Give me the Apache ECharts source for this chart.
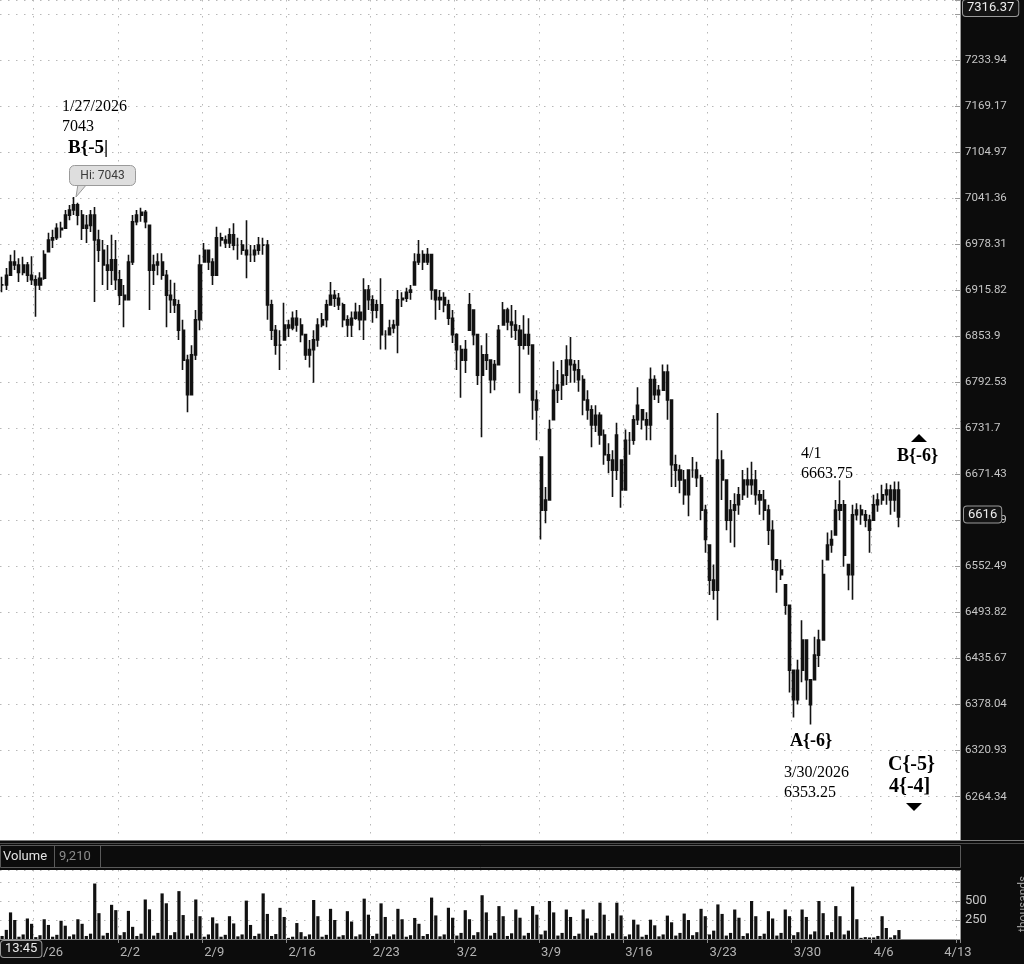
<!DOCTYPE html>
<html>
<head>
<meta charset="utf-8">
<title>ES hourly - wave count</title>
<script src="https://cdn.jsdelivr.net/npm/echarts@6/dist/echarts.min.js"></script>
<style>
  html, body { margin: 0; padding: 0; background: #0c0c0c; }
  #chart { width: 1024px; height: 964px; }
</style>
</head>
<body>
<div id="chart"></div>
<script>
// sessions on the time axis, each split in quarter-session slots
const sessionDays = ['1/22', '1/23', '1/26', '1/27', '1/28', '1/29', '1/30',
  '2/2', '2/3', '2/4', '2/5', '2/6', '2/9', '2/10', '2/11', '2/12', '2/13',
  '2/16', '2/17', '2/18', '2/19', '2/20', '2/23', '2/24', '2/25', '2/26', '2/27',
  '3/2', '3/3', '3/4', '3/5', '3/6', '3/9', '3/10', '3/11', '3/12', '3/13',
  '3/16', '3/17', '3/18', '3/19', '3/20', '3/23', '3/24', '3/25', '3/26', '3/27',
  '3/30', '3/31', '4/1', '4/2', '4/3', '4/6', '4/7', '4/8', '4/9', '4/10', '4/13'];
const sessionSlots = [4, 4, 4, 4, 4, 4, 4,
  4, 4, 4, 4, 4, 4, 4, 4, 4, 4,
  4, 4, 4, 4, 4, 4, 4, 4, 4, 4,
  4, 4, 4, 4, 4, 4, 4, 4, 4, 4,
  4, 4, 4, 4, 4, 4, 4, 4, 4, 4,
  4, 4, 4, 4, 3, 4, 4, 4, 4, 4, 1];
const weekLabels = ['1/26', '2/2', '2/9', '2/16', '2/23', '3/2', '3/9', '3/16', '3/23', '3/30', '4/6', '4/13'];

// right-hand price scale (log spaced), step 972 .. 989
const priceTicks = ['6264.34', '6320.93', '6378.04', '6435.67', '6493.82', '6552.49', '6611.69',
  '6671.43', '6731.7', '6792.53', '6853.9', '6915.82', '6978.31', '7041.36', '7104.97',
  '7169.17', '7233.94', '7299.3'];
const firstTickStep = 972;

// one bar per slot
const highs = [
  6934, 6946, 6964, 6970, 6959, 6961, 6954, 6962, 6936, 6940,
  6970, 6994, 6998, 7007, 7009, 7025, 7032, 7043, 7035, 7025,
  7018, 7025, 7029, 6998, 6984, 6977, 6991, 6984, 6943, 6923,
  6964, 7018, 7025, 7028, 7025, 7004, 6964, 6966, 6966, 6943,
  6930, 6926, 6903, 6876, 6829, 6842, 6889, 6964, 6980, 6970,
  6959, 7002, 6994, 6990, 7000, 7007, 6987, 6984, 7011, 6977,
  6977, 6988, 6987, 6984, 6903, 6869, 6862, 6899, 6876, 6887,
  6889, 6878, 6856, 6849, 6862, 6878, 6885, 6903, 6927, 6916,
  6912, 6899, 6882, 6887, 6899, 6896, 6932, 6923, 6909, 6903,
  6932, 6862, 6876, 6876, 6916, 6913, 6919, 6923, 6966, 6984,
  6970, 6973, 6964, 6916, 6916, 6913, 6903, 6889, 6858, 6842,
  6849, 6912, 6889, 6856, 6842, 6858, 6822, 6822, 6869, 6900,
  6892, 6896, 6889, 6869, 6882, 6878, 6842, 6782, 6694, 6655,
  6743, 6820, 6809, 6822, 6842, 6853, 6822, 6822, 6802, 6782,
  6762, 6762, 6753, 6730, 6712, 6703, 6739, 6690, 6730, 6727,
  6749, 6786, 6756, 6753, 6812, 6802, 6789, 6816, 6816, 6769,
  6697, 6684, 6677, 6677, 6694, 6688, 6671, 6632, 6580, 6555,
  6752, 6703, 6664, 6638, 6647, 6655, 6677, 6680, 6688, 6677,
  6651, 6651, 6632, 6612, 6561, 6561, 6529, 6503, 6421, 6434,
  6484, 6459, 6409, 6463, 6472, 6561, 6596, 6599, 6638, 6663.75,
  6638, 6555, 6632, 6634, 6632, 6625, 6619, 6645, 6647, 6658,
  6660, 6658, 6662, 6662
];
const lows = [
  6913, 6916, 6936, 6943, 6927, 6936, 6927, 6923, 6880, 6916,
  6930, 6968, 6973, 6984, 6987, 7000, 7011, 7018, 7004, 6984,
  6980, 6995, 6900, 6954, 6923, 6916, 6923, 6916, 6896, 6866,
  6903, 6950, 7004, 7009, 7000, 6889, 6923, 6936, 6930, 6866,
  6885, 6885, 6849, 6809, 6753, 6776, 6822, 6862, 6954, 6943,
  6923, 6936, 6975, 6973, 6973, 6970, 6957, 6964, 6932, 6954,
  6954, 6964, 6964, 6876, 6849, 6829, 6809, 6849, 6853, 6862,
  6860, 6846, 6822, 6812, 6792, 6840, 6866, 6866, 6896, 6893,
  6889, 6866, 6853, 6853, 6876, 6862, 6849, 6889, 6872, 6878,
  6836, 6836, 6856, 6858, 6831, 6893, 6900, 6903, 6923, 6950,
  6943, 6950, 6903, 6876, 6889, 6886, 6869, 6845, 6809, 6772,
  6805, 6862, 6842, 6789, 6720, 6809, 6778, 6782, 6816, 6869,
  6862, 6852, 6849, 6778, 6836, 6829, 6743, 6716, 6587, 6608,
  6638, 6743, 6765, 6769, 6789, 6792, 6792, 6780, 6749, 6743,
  6707, 6727, 6710, 6684, 6673, 6642, 6664, 6628, 6651, 6697,
  6710, 6736, 6730, 6716, 6716, 6769, 6765, 6782, 6743, 6655,
  6655, 6647, 6632, 6617, 6667, 6655, 6612, 6570, 6516, 6510,
  6484, 6638, 6599, 6583, 6577, 6619, 6638, 6641, 6645, 6632,
  6619, 6612, 6580, 6548, 6519, 6535, 6491, 6393, 6362, 6378,
  6406, 6384, 6353.25, 6409, 6425, 6459, 6561, 6570, 6593, 6612,
  6552, 6522, 6510, 6612, 6606, 6603, 6570, 6612, 6623, 6632,
  6632, 6619, 6623, 6603
];
const closes = [
  6923, 6936, 6954, 6950, 6940, 6950, 6936, 6930, 6923, 6932,
  6964, 6984, 6987, 7000, 6998, 7018, 7025, 7032, 7018, 7000,
  7004, 7018, 6984, 6970, 6950, 6943, 6957, 6930, 6909, 6903,
  6954, 7009, 7018, 7022, 7009, 6943, 6950, 6954, 6936, 6909,
  6903, 6896, 6862, 6822, 6776, 6829, 6876, 6950, 6970, 6954,
  6936, 6987, 6984, 6980, 6991, 6977, 6977, 6970, 6964, 6964,
  6970, 6977, 6977, 6896, 6862, 6842, 6842, 6869, 6865, 6878,
  6869, 6856, 6829, 6836, 6849, 6869, 6876, 6896, 6909, 6905,
  6896, 6876, 6869, 6878, 6886, 6876, 6916, 6903, 6889, 6896,
  6856, 6856, 6865, 6869, 6903, 6905, 6913, 6916, 6954, 6964,
  6954, 6964, 6916, 6903, 6906, 6896, 6878, 6856, 6836, 6822,
  6836, 6896, 6856, 6802, 6829, 6822, 6796, 6816, 6862, 6889,
  6873, 6869, 6862, 6842, 6856, 6842, 6769, 6756, 6625, 6638,
  6730, 6782, 6789, 6802, 6822, 6816, 6809, 6796, 6769, 6756,
  6736, 6749, 6723, 6697, 6690, 6677, 6723, 6651, 6716, 6716,
  6743, 6762, 6743, 6736, 6796, 6776, 6782, 6806, 6769, 6684,
  6677, 6664, 6645, 6677, 6677, 6667, 6625, 6587, 6535, 6522,
  6690, 6664, 6612, 6625, 6632, 6645, 6664, 6658, 6664, 6645,
  6638, 6625, 6599, 6561, 6548, 6542, 6503, 6421, 6384, 6421,
  6459, 6409, 6378, 6440, 6459, 6542, 6580, 6587, 6625, 6632,
  6567, 6542, 6619, 6625, 6619, 6612, 6599, 6632, 6638, 6645,
  6651, 6638, 6651, 6616
];

// volume in thousands, same slots
const volumes = [
  40, 120, 350, 250,   30, 60, 270, 200,   25, 50, 260, 185,   30, 55, 240, 175,
  35, 60, 260, 200,   40, 70, 730, 340,   45, 80, 450, 380,
  50, 90, 370, 160,   40, 70, 520, 390,   45, 80, 600, 470,   50, 90, 630, 315,   45, 75, 520, 300,
  30, 60, 285, 205,   30, 55, 300, 205,   35, 60, 505, 185,   40, 70, 600, 330,   40, 65, 410, 290,
  15, 30, 210, 90,   35, 60, 513, 300,   30, 55, 397, 250,   30, 50, 366, 230,   35, 60, 531, 320,
  40, 70, 469, 290,   35, 60, 397, 260,   30, 50, 277, 200,   40, 65, 545, 310,   35, 60, 411, 280,
  45, 80, 379, 260,   50, 90, 576, 350,   45, 80, 433, 300,   40, 75, 388, 280,   45, 80, 433, 320,
  60, 110, 500, 350,   45, 80, 388, 290,   40, 70, 388, 270,   45, 80, 478, 320,   45, 75, 478, 310,
  35, 60, 254, 190,   30, 55, 254, 180,   35, 60, 308, 220,   45, 80, 335, 250,   50, 90, 397, 300,
  60, 110, 455, 330,   45, 80, 388, 280,   40, 75, 500, 300,   40, 70, 366, 270,   45, 80, 388, 300,
  50, 90, 388, 290,   60, 100, 500, 340,   50, 90, 433, 300,   60, 110, 690, 260,
  15, 25, 20,   20, 40, 300, 145,   20, 50, 118
];

const categories = [];
sessionDays.forEach((d, i) => {
  for (let k = 0; k < sessionSlots[i]; k++) categories.push(d + ' #' + (k + 1));
});
const weekIdx = new Set(weekLabels.map(d => categories.indexOf(d + ' #1')));
const atWeek = idx => weekIdx.has(idx);

// log price scale: one axis unit = one tick step
const logStep = Math.log(+priceTicks[0]) / firstTickStep;
const toAxis = p => Math.log(p) / logStep;

const candles = closes.map((c, i) => {
  const prev = i ? closes[i - 1] : c;
  const o = Math.min(Math.max(prev, lows[i]), highs[i]);
  return [toAxis(o), toAxis(c), toAxis(lows[i]), toAxis(highs[i])];
});

const chart = echarts.init(document.getElementById('chart'), null, { renderer: 'canvas' });

const dotted = { color: '#b8b8b8', width: 1, type: [1.5, 6.5] };
const serif = '"Liberation Serif", "DejaVu Serif", serif';
const sans = 'Roboto, "Open Sans", sans-serif';

function label(x, y, text, size, bold, align) {
  return {
    type: 'text', x: x, y: y, z: 60, silent: true,
    style: {
      text: text, fill: '#000',
      font: (bold ? 'bold ' : '') + size + 'px ' + serif,
      align: align || 'left', verticalAlign: 'middle',
      textAlign: align || 'left', textVerticalAlign: 'middle'
    }
  };
}
function box(x, y, text, align) {
  return {
    type: 'text', x: x, y: y, z: 80, silent: true,
    style: {
      text: text, fill: '#ececec', font: '13px ' + sans,
      align: align || 'left', verticalAlign: 'middle',
      textAlign: align || 'left', textVerticalAlign: 'middle',
      backgroundColor: '#141414', borderColor: '#9a9a9a', borderWidth: 1,
      borderRadius: 3, padding: [2, 4, 1, 4]
    }
  };
}

const option = {
  backgroundColor: '#0c0c0c',
  animation: false,
  grid: [
    { left: 0, right: 64, top: 0, height: 842.68, show: true, backgroundColor: '#ffffff', borderWidth: 0 },
    { left: 0, right: 64, top: 870, height: 69, show: true, backgroundColor: '#ffffff', borderWidth: 0 }
  ],
  xAxis: [
    {
      type: 'category', gridIndex: 0, data: categories,
      axisLine: { show: false }, axisTick: { show: false }, axisLabel: { show: false },
      splitLine: { show: true, interval: atWeek, lineStyle: dotted }
    },
    {
      type: 'category', gridIndex: 1, data: categories,
      axisLine: { show: true, lineStyle: { color: '#8a8a8a' } },
      axisTick: { show: true, interval: atWeek, length: 4, lineStyle: { color: '#8a8a8a' } },
      axisLabel: {
        interval: atWeek, align: 'left', margin: 7, color: '#b4b4b4',
        fontFamily: sans, fontSize: 13, alignMaxLabel: 'center',
        formatter: v => v.split(' ')[0]
      },
      splitLine: { show: true, interval: atWeek, lineStyle: dotted }
    }
  ],
  yAxis: [
    {
      type: 'value', gridIndex: 0, position: 'right',
      min: firstTickStep - 1, max: firstTickStep + 17.303, interval: 1,
      axisLine: { show: true, lineStyle: { color: '#9a9a9a' } },
      axisTick: { show: true, inside: true, length: 5, lineStyle: { color: '#9a9a9a' } },
      axisLabel: {
        margin: 5, color: '#c6c6c6', fontFamily: sans, fontSize: 11.5,
        formatter: v => {
          const r = Math.round(v);
          if (Math.abs(v - r) > 1e-6) return '';
          return priceTicks[r - firstTickStep] || '';
        }
      },
      splitLine: { show: true, lineStyle: dotted }
    },
    {
      type: 'value', gridIndex: 1, position: 'right',
      min: 0, max: 908, interval: 250,
      axisLine: { show: true, lineStyle: { color: '#9a9a9a' } },
      axisTick: { show: true, inside: true, length: 5, lineStyle: { color: '#9a9a9a' } },
      axisLabel: {
        margin: 5, color: '#c6c6c6', fontFamily: sans, fontSize: 13,
        formatter: v => (v === 250 || v === 500) ? String(v) : ''
      },
      splitLine: { show: true, lineStyle: dotted }
    }
  ],
  series: [
    {
      type: 'candlestick', xAxisIndex: 0, yAxisIndex: 0,
      data: candles, barWidth: 2.6,
      itemStyle: {
        color: '#121212', color0: '#121212',
        borderColor: '#121212', borderColor0: '#121212', borderColorDoji: '#121212',
        borderWidth: 1.6
      }
    },
    {
      type: 'bar', xAxisIndex: 1, yAxisIndex: 1,
      data: volumes, barWidth: 3.2,
      itemStyle: { color: '#111' }
    }
  ],
  graphic: [
    // band between price and volume panes
    { type: 'rect', z: 50, silent: true, shape: { x: 0, y: 840, width: 1024, height: 30 }, style: { fill: '#0c0c0c' } },
    { type: 'line', z: 51, silent: true, shape: { x1: 0, y1: 840.5, x2: 1024, y2: 840.5 }, style: { stroke: '#7c7c7c', lineWidth: 1 } },
    { type: 'line', z: 51, silent: true, shape: { x1: 0, y1: 843.5, x2: 1024, y2: 843.5 }, style: { stroke: '#4c4c4c', lineWidth: 1 } },
    { type: 'rect', z: 52, silent: true, shape: { x: 0.5, y: 845.5, width: 960, height: 22 }, style: { fill: '#0c0c0c', stroke: '#5a5a5a', lineWidth: 1 } },
    { type: 'line', z: 53, silent: true, shape: { x1: 54.5, y1: 846, x2: 54.5, y2: 867 }, style: { stroke: '#5a5a5a', lineWidth: 1 } },
    { type: 'line', z: 53, silent: true, shape: { x1: 100.5, y1: 846, x2: 100.5, y2: 867 }, style: { stroke: '#5a5a5a', lineWidth: 1 } },
    { type: 'text', z: 54, x: 3, y: 856.5, silent: true, style: { text: 'Volume', fill: '#e4e4e4', font: '13px ' + sans, align: 'left', verticalAlign: 'middle', textAlign: 'left', textVerticalAlign: 'middle' } },
    { type: 'text', z: 54, x: 59, y: 856.5, silent: true, style: { text: '9,210', fill: '#8c8c8c', font: '13px ' + sans, align: 'left', verticalAlign: 'middle', textAlign: 'left', textVerticalAlign: 'middle' } },
    { type: 'text', z: 45, x: 1024, y: 932, rotation: Math.PI / 2, silent: true, style: { text: 'thousands', fill: '#9a9a9a', font: '12px ' + sans, align: 'left', verticalAlign: 'middle', textAlign: 'left', textVerticalAlign: 'middle' } },

    // value boxes
    box(963, 8, '7316.37'),
    box(964, 514.5, '6616'),
    box(1, 949, '13:45'),

    // wave labels
    label(62, 107, '1/27/2026', 16, false),
    label(62, 127, '7043', 16, false),
    label(68, 148, 'B{-5|', 19, true),
    label(801, 454, '4/1', 16, false),
    label(801, 474, '6663.75', 16, false),
    label(897, 456, 'B{-6}', 18, true),
    label(790, 741, 'A{-6}', 18, true),
    label(784, 773, '3/30/2026', 16, false),
    label(784, 793, '6353.25', 16, false),
    label(888, 765, 'C{-5}', 20, true),
    label(889, 787, '4{-4]', 20, true),
    { type: 'polygon', z: 60, silent: true, shape: { points: [[911, 442], [927, 442], [919, 434]] }, style: { fill: '#000' } },
    { type: 'polygon', z: 60, silent: true, shape: { points: [[906, 803], [922, 803], [914, 811]] }, style: { fill: '#000' } },

    // "Hi" bubble at the top
    { type: 'polygon', z: 61, silent: true, shape: { points: [[78, 184], [87, 184], [76, 197]] }, style: { fill: '#dedede', stroke: '#9a9a9a', lineWidth: 1 } },
    { type: 'rect', z: 62, silent: true, shape: { x: 69.5, y: 165.5, width: 66, height: 20, r: 5 }, style: { fill: '#dedede', stroke: '#9a9a9a', lineWidth: 1 } },
    { type: 'rect', z: 63, silent: true, shape: { x: 79, y: 183, width: 7, height: 2 }, style: { fill: '#dedede' } },
    { type: 'text', z: 64, x: 102.5, y: 175.5, silent: true, style: { text: 'Hi: 7043', fill: '#3a3a3a', font: '12px ' + sans, align: 'center', verticalAlign: 'middle', textAlign: 'center', textVerticalAlign: 'middle' } }
  ]
};

chart.setOption(option);
</script>
</body>
</html>
